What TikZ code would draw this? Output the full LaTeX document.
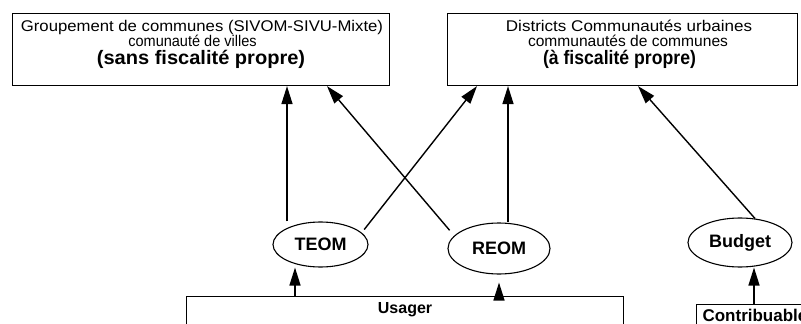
\documentclass[tikz,border=0pt]{standalone}
\usepackage{graphicx}
\usepackage{fontspec}
\setmainfont{Liberation Sans}
\usetikzlibrary{arrows.meta,shapes.geometric}

\tikzset{
  box/.style={draw, line width=1.1pt, inner sep=0pt, anchor=north west},
  lbl/.style={anchor=base, inner sep=0pt},
  oval/.style={draw, ellipse, line width=1.1pt, inner sep=0pt,
    font=\bfseries\fontsize{18}{20}\selectfont},
  arr/.style={line width=1.4pt, -{Triangle[length=18pt,width=11pt]}},
}
\newcommand\nrm[2]{\scalebox{#1}[1]{\fontsize{15.5}{18}\selectfont #2}}
\newcommand\bld[2]{\scalebox{#1}[1]{\fontsize{19.5}{22}\selectfont\bfseries #2}}

\begin{document}
\begin{tikzpicture}[x=1pt,y=-1pt]
  \useasboundingbox (0,0) rectangle (801,324);
  \clip (0,0) rectangle (801,324);

  % upper groupings
  \node[box, minimum width=377pt, minimum height=72pt] (lbox) at (12,13) {};
  \node[lbl] (l1) at (202,31.5) {\nrm{1.078}{Groupement de communes (SIVOM-SIVU-Mixte)}};
  \node[lbl] (l2) at (192.5,46) {\nrm{0.937}{comunauté de villes}};
  \node[lbl] (l3) at (201,64)   {\bld{1.028}{(sans fiscalité propre)}};

  \node[box, minimum width=350pt, minimum height=72pt] (rbox) at (447,13) {};
  \node[lbl] (r1) at (629,31.5) {\nrm{1.099}{Districts Communautés urbaines}};
  \node[lbl] (r2) at (628,46)   {\nrm{1.005}{communautés de communes}};
  \node[lbl] (r3) at (619.5,64) {\bld{0.905}{(à fiscalité propre)}};

  % resources
  \node[oval, minimum width=95pt, minimum height=45pt] (teom) at (320.5,244.5) {TEOM};
  \node[oval, minimum width=102pt, minimum height=51pt] (reom) at (499,248.5) {REOM};
  \node[oval, minimum width=104pt, minimum height=49pt] (budget) at (740,242.5) {Budget};

  % payers
  \node[box, minimum width=437pt, text height=12pt, text depth=40pt, inner ysep=5.5pt,
        font=\bfseries\fontsize{16}{18}\selectfont] (usager) at (186,295.5) {Usager};
  \node[box, inner xsep=6pt, inner ysep=5pt, text height=12pt, text depth=30pt,
        font=\bfseries\fontsize{17}{19}\selectfont] (contrib) at (696,304) {Contribuable};

  % arrow ends on the box edges
  \coordinate (c1) at ([xshift=275pt]lbox.south west);
  \coordinate (c2) at ([xshift=315pt]lbox.south west);
  \coordinate (c3) at ([xshift=30pt]rbox.south west);
  \coordinate (c4) at ([xshift=61pt]rbox.south west);
  \coordinate (c5) at ([xshift=191pt]rbox.south west);
  \coordinate (u1) at ([xshift=109pt]usager.north west);
  \coordinate (u2) at ([xshift=313pt]usager.north west);
  \coordinate (k1) at ([xshift=58pt]contrib.north west);

  % flows
  \draw[arr] (c1 |- teom.north) -- (c1);
  \draw[arr, shorten <=7pt] (reom.164) -- (c2);
  \draw[arr, shorten <=4pt] (teom.16) -- (c3);
  \draw[arr] (c4 |- reom.north) -- (c4);
  \draw[arr] (budget.58) -- (c5);
  \draw[arr] (u1) -- (u1 |- teom.south);
  \draw[arr, shorten >=8pt] (u2) -- (u2 |- reom.south);
  \draw[arr] (k1) -- (k1 |- budget.south);
\end{tikzpicture}
\end{document}
